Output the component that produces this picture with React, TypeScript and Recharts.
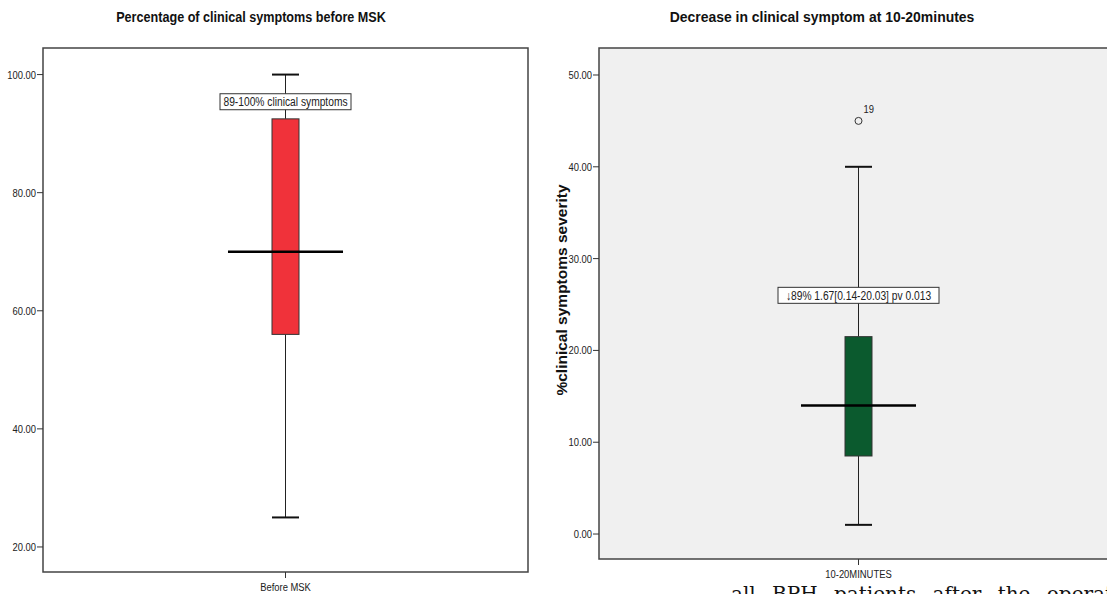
import { Bar, CartesianGrid, ComposedChart, ReferenceArea, XAxis, YAxis } from "recharts";

// --- data ---
const beforeCategories = ["Before MSK"];
const beforeMin = [25];
const beforeQ1 = [56];
const beforeMedian = [70];
const beforeQ3 = [92.5];
const beforeMax = [100];
const beforeOutliers: { value: number; id: string }[][] = [[]];
const beforeTicks = [20, 40, 60, 80, 100];

const afterCategories = ["10-20MINUTES"];
const afterMin = [1];
const afterQ1 = [8.5];
const afterMedian = [14];
const afterQ3 = [21.5];
const afterMax = [40];
const afterOutliers = [[{ value: 45, id: "19" }]];
const afterTicks = [0, 10, 20, 30, 40, 50];

// no Arial Narrow here: Liberation Sans squeezed horizontally stands in for it
const SANS = '"Liberation Sans", Arial, sans-serif';
const SQUEEZE = 0.82;

type BoxRow = {
  name: string;
  box: [number, number];
  min: number;
  q1: number;
  median: number;
  q3: number;
  max: number;
  outliers: { value: number; id: string }[];
};

function buildRows(
  cats: string[],
  min: number[],
  q1: number[],
  median: number[],
  q3: number[],
  max: number[],
  outliers: { value: number; id: string }[][]
): BoxRow[] {
  return cats.map((name, i) => ({
    name,
    box: [q1[i], q3[i]],
    min: min[i],
    q1: q1[i],
    median: median[i],
    q3: q3[i],
    max: max[i],
    outliers: outliers[i],
  }));
}

const beforeRows = buildRows(beforeCategories, beforeMin, beforeQ1, beforeMedian, beforeQ3, beforeMax, beforeOutliers);
const afterRows = buildRows(afterCategories, afterMin, afterQ1, afterMedian, afterQ3, afterMax, afterOutliers);

type Note = { text: string; at: number; width: number };

function NarrowText({ x, y, anchor, size, dy, children }: any) {
  return (
    <g transform={`translate(${x},${y})`}>
      <text transform={`scale(${SQUEEZE},1)`} textAnchor={anchor} dy={dy} fontSize={size} fill="#222" fontFamily={SANS}>
        {children}
      </text>
    </g>
  );
}

const YTick = (p: any) => (
  <NarrowText x={p.x} y={p.y} anchor="end" size={11.5} dy="0.35em">
    {Number(p.payload.value).toFixed(2)}
  </NarrowText>
);

const XTick = (p: any) => (
  <NarrowText x={p.x} y={p.y} anchor="middle" size={11.5} dy="0.71em">
    {p.payload.value}
  </NarrowText>
);

function BoxShape(props: any) {
  const { x, y, width, height, payload, fill, note } = props;
  const row = payload as BoxRow;
  // pixel scale recovered from the bar the library drew for [q1, q3]
  const unit = height / (row.q3 - row.q1);
  const py = (v: number) => y + (row.q3 - v) * unit;
  const cx = x + width / 2;
  const half = width / 2;
  return (
    <g>
      <line x1={cx} x2={cx} y1={py(row.max)} y2={py(row.q3)} stroke="#222" strokeWidth={1} />
      <line x1={cx} x2={cx} y1={py(row.q1)} y2={py(row.min)} stroke="#222" strokeWidth={1} />
      <line x1={cx - half} x2={cx + half} y1={py(row.max)} y2={py(row.max)} stroke="#111" strokeWidth={2} />
      <line x1={cx - half} x2={cx + half} y1={py(row.min)} y2={py(row.min)} stroke="#111" strokeWidth={2} />
      <rect x={x} y={y} width={width} height={height} fill={fill} stroke="#333" strokeWidth={1} />
      <line x1={cx - width * 2.13} x2={cx + width * 2.13} y1={py(row.median)} y2={py(row.median)} stroke="#000" strokeWidth={2.5} />
      {row.outliers.map((o) => (
        <g key={o.id}>
          <circle cx={cx} cy={py(o.value)} r={3.5} fill="none" stroke="#333" strokeWidth={1} />
          <NarrowText x={cx + 5} y={py(o.value) - 8} anchor="start" size={11.5} dy={0}>
            {o.id}
          </NarrowText>
        </g>
      ))}
      {note && (
        <g>
          <rect
            x={cx - note.width / 2}
            y={py(note.at) - 8}
            width={note.width}
            height={16}
            fill="#fff"
            stroke="#333"
            strokeWidth={1}
          />
          <NarrowText x={cx} y={py(note.at)} anchor="middle" size={12.5} dy="0.36em">
            {note.text}
          </NarrowText>
        </g>
      )}
    </g>
  );
}

type PanelProps = {
  rows: BoxRow[];
  ticks: number[];
  domain: [number, number];
  width: number;
  yAxisWidth: number;
  xAxisHeight: number;
  background: string;
  boxFill: string;
  note: Note;
};

function BoxPanel({ rows, ticks, domain, width, yAxisWidth, xAxisHeight, background, boxFill, note }: PanelProps) {
  return (
    <ComposedChart width={width} height={594} data={rows} margin={{ top: 48, right: 12, bottom: 0, left: 0 }}>
      <CartesianGrid horizontal={false} vertical={false} fill={background} />
      <XAxis
        dataKey="name"
        height={xAxisHeight}
        axisLine={false}
        tickLine={{ stroke: "#333" }}
        tickSize={6}
        tickMargin={5}
        tick={XTick}
      />
      <YAxis
        type="number"
        domain={domain}
        ticks={ticks}
        width={yAxisWidth}
        axisLine={false}
        tickLine={{ stroke: "#333" }}
        tickSize={6}
        tickMargin={1}
        tick={YTick}
      />
      <ReferenceArea y1={domain[0]} y2={domain[1]} fill="none" stroke="#444" strokeWidth={1.5} ifOverflow="visible" />
      <Bar
        dataKey="box"
        fill={boxFill}
        barSize={27}
        isAnimationActive={false}
        shape={(p: any) => <BoxShape {...p} note={note} />}
      />
    </ComposedChart>
  );
}

const titleStyle = {
  position: "absolute" as const,
  top: 9,
  whiteSpace: "nowrap" as const,
  fontFamily: SANS,
  fontWeight: 700,
  color: "#111",
};

export default function App() {
  return (
    <div
      style={{
        position: "absolute",
        left: 0,
        top: 0,
        width: 1107,
        height: 594,
        overflow: "hidden",
        background: "#fff",
      }}
    >
      <div style={{ ...titleStyle, left: 251, fontSize: 14, transform: "translateX(-50%) scaleX(0.9)" }}>
        Percentage of clinical symptoms before MSK
      </div>
      <div style={{ ...titleStyle, left: 822, top: 8, fontSize: 15, transform: "translateX(-50%) scaleX(0.93)" }}>
        Decrease in clinical symptom at 10-20minutes
      </div>

      <div style={{ position: "absolute", left: 0, top: 0 }}>
        <BoxPanel
          rows={beforeRows}
          ticks={beforeTicks}
          domain={[15.76, 104.5]}
          width={540}
          yAxisWidth={43}
          xAxisHeight={22}
          background="#fff"
          boxFill="#f0323a"
          note={{ text: "89-100% clinical symptoms", at: 95.4, width: 131 }}
        />
      </div>

      <div style={{ position: "absolute", left: 545, top: 0 }}>
        <BoxPanel
          rows={afterRows}
          ticks={afterTicks}
          domain={[-2.72, 52.94]}
          width={585}
          yAxisWidth={54}
          xAxisHeight={35}
          background="#f0f0f0"
          boxFill="#0b5a2e"
          note={{ text: "↓89% 1.67[0.14-20.03] pv 0.013", at: 26.0, width: 161 }}
        />
      </div>

      <div
        style={{
          position: "absolute",
          left: 562,
          top: 290,
          transform: "translate(-50%, -50%) rotate(-90deg)",
          whiteSpace: "nowrap",
          fontFamily: SANS,
          fontWeight: 700,
          fontSize: 15.5,
          color: "#111",
        }}
      >
        %clinical symptoms severity
      </div>

      <div
        style={{
          position: "absolute",
          left: 731,
          top: 582,
          whiteSpace: "nowrap",
          fontFamily: '"DejaVu Serif", serif',
          fontSize: 20,
          wordSpacing: 10,
          color: "#111",
        }}
      >
        all BPH patients after the operation
      </div>
    </div>
  );
}
